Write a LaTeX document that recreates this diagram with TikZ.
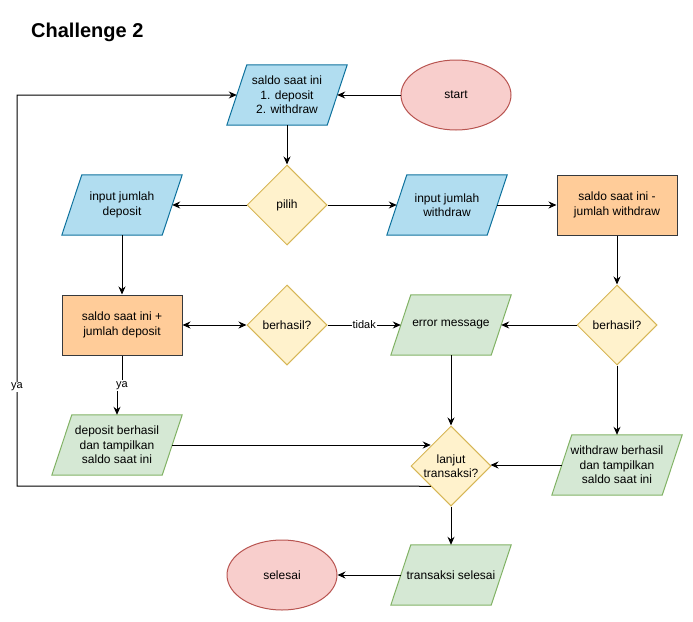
\documentclass[tikz,border=0pt]{standalone}
\usepackage{fontspec}
\setmainfont{Liberation Sans}
\usetikzlibrary{shapes.geometric,arrows.meta,backgrounds}
\definecolor{blFill}{HTML}{B1DDF0}
\definecolor{blStroke}{HTML}{10739E}
\definecolor{reFill}{HTML}{F8CECC}
\definecolor{reStroke}{HTML}{B85450}
\definecolor{yeFill}{HTML}{FFF2CC}
\definecolor{yeStroke}{HTML}{D6B656}
\definecolor{orFill}{HTML}{FFCC99}
\definecolor{orStroke}{HTML}{36393D}
\definecolor{grFill}{HTML}{D5E8D4}
\definecolor{grStroke}{HTML}{82B366}
\newcommand\paradraw[3]{%
  \draw[draw=#2, fill=#3, line width=1pt]
    ([xshift=10pt]#1.north west) -- ([xshift=10pt]#1.north east) --
    ([xshift=-10pt]#1.south east) -- ([xshift=-10pt]#1.south west) -- cycle;}
\begin{document}
\begin{tikzpicture}[x=1pt,y=-1pt,
  every node/.style={font=\fontsize{12}{14.5}\selectfont, align=center, text=black},
  para/.style={rectangle, minimum width=100pt, minimum height=60pt, inner sep=0pt},
  widepara/.style={para, minimum width=110pt},
  procbox/.style={rectangle, draw=orStroke, fill=orFill, line width=1pt, minimum width=120pt, minimum height=60pt, inner sep=0pt},
  decis/.style={diamond, draw=yeStroke, fill=yeFill, line width=1pt, minimum width=80pt, minimum height=80pt, inner sep=0pt},
  term/.style={ellipse, draw=reStroke, fill=reFill, line width=1pt, minimum width=110pt, minimum height=70pt, inner sep=0pt},
  arr/.style={line width=1pt, -{Stealth[length=8pt,width=7pt]}},
  arrtwo/.style={line width=1pt, {Stealth[length=8pt,width=7pt]}-{Stealth[length=8pt,width=7pt]}},
  plainline/.style={line width=1pt},
  lbl/.style={fill=white, inner sep=1pt, font=\fontsize{11}{13}\selectfont}
]
\useasboundingbox (0,0) rectangle (693,621);

\node[font=\fontsize{20}{24}\selectfont\bfseries, anchor=west, inner sep=0pt] (title) at (31,32) {Challenge 2};

% nodes
\node[para] (saldo) at (287,95) {saldo saat ini\\1. deposit\\2. withdraw};
\node[term] (start) at (456,95) {start};
\node[decis] (pilih) at (287,205) {pilih};
\node[para] (indep) at (122,205) {input jumlah\\deposit};
\node[para] (inwd) at (447,205) {input jumlah\\withdraw};
\node[procbox] (minus) at (617,205) {saldo saat ini -\\jumlah withdraw};
\node[procbox] (plus) at (122,325) {saldo saat ini +\\jumlah deposit};
\node[decis] (bone) at (287,325) {berhasil?};
\node[para] (err) at (451,325) {error message};
\node[decis] (btwo) at (617,325) {berhasil?};
\node[decis] (lanjut) at (451,466) {};
\node (lanjuttext) at (lanjut) {lanjut\\transaksi?};
\node[widepara] (depok) at (117,445) {deposit berhasil\\dan tampilkan\\saldo saat ini};
\node[widepara] (wdok) at (617,465) {withdraw berhasil\\dan tampilkan\\saldo saat ini};
\node[para] (tsel) at (451,575) {transaksi selesai};
\node[term] (selesai) at (282,575) {selesai};

\begin{pgfonlayer}{background}
  \paradraw{saldo}{blStroke}{blFill}
  \paradraw{indep}{blStroke}{blFill}
  \paradraw{inwd}{blStroke}{blFill}
  \paradraw{err}{grStroke}{grFill}
  \paradraw{depok}{grStroke}{grFill}
  \paradraw{wdok}{grStroke}{grFill}
  \paradraw{tsel}{grStroke}{grFill}
\end{pgfonlayer}

% connectors
\draw[arr] (start.west) -- (saldo.east);
\coordinate (loopc) at (17,486);
\draw[arr] (lanjut.south west) -- (loopc) |- (saldo.west);
\node[lbl] (yaloop) at (17,387) {ya};
\draw[arr] (saldo.south) -- (pilih.north);
\draw[arr] (pilih.west) -- (indep.east);
\draw[arr] (pilih.east) -- (inwd.west);
\draw[arr] (inwd.east) -- (minus.west);
\draw[arr] (minus.south) -- (btwo.north);
\draw[arr] (indep.south) -- (plus.north);
\draw[arrtwo] (plus.east) -- (bone.west);
\draw[arr] (bone.east) -- node[lbl] {tidak} (err.west);
\draw[arr] (btwo.west) -- (err.east);
\draw[arr] (plus.south) -- ++(0,30) node[lbl] {ya} -| (depok.north);
\draw[arr] (err.south) -- (lanjut.north);
\draw[arr] (depok.east) -- (depok.east -| lanjut.north west);
\draw[arr] (btwo.south) -- (wdok.north);
\draw[arr] (wdok.west) -- ([xshift=-1pt]wdok.west -| lanjut.east);
\draw[arr] (lanjut.south) -- (tsel.north);
\draw[arr] (tsel.west) -- (selesai.east);
\end{tikzpicture}
\end{document}
